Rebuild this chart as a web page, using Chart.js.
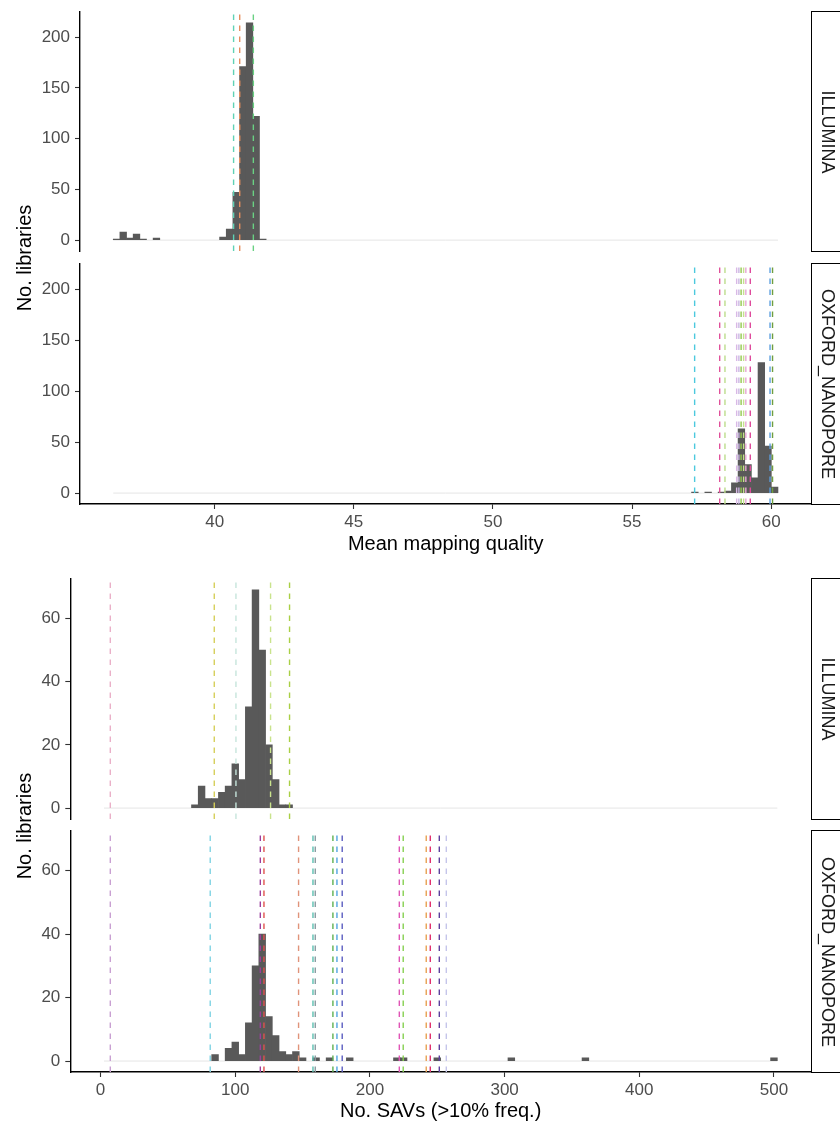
<!DOCTYPE html>
<html>
<head>
<meta charset="utf-8">
<script src="https://cdn.jsdelivr.net/npm/chart.js@4.4.1/dist/chart.umd.min.js"></script>
<style>
  html, body { margin: 0; padding: 0; background: #fff; }
  #page { position: relative; width: 840px; height: 1126px; overflow: hidden; font-family: "Liberation Sans", Arial, Helvetica, sans-serif; }
  #page canvas { position: absolute; left: 0; }
  .strip { position: absolute; left: 811px; width: 60px; box-sizing: border-box; border: 1.4px solid #000; background: #fff; }
  .rot { position: absolute; width: 300px; text-align: center; white-space: nowrap; }
</style>
</head>
<body>
<div id="page"></div>
<script>
// ---- mean mapping quality, 100 bins ----
var mqBinStart = 36.355;
var mqBinWidth = 0.2389;
var mqIllumina = [
  1, 8, 2, 6, 1, 0, 2, 0, 0, 0, 0, 0, 0, 0, 0, 0, 3, 11, 47, 171,
  214, 122, 1, 0, 0, 0, 0, 0, 0, 0, 0, 0, 0, 0, 0, 0, 0, 0, 0, 0,
  0, 0, 0, 0, 0, 0, 0, 0, 0, 0, 0, 0, 0, 0, 0, 0, 0, 0, 0, 0,
  0, 0, 0, 0, 0, 0, 0, 0, 0, 0, 0, 0, 0, 0, 0, 0, 0, 0, 0, 0,
  0, 0, 0, 0, 0, 0, 0, 0, 0, 0, 0, 0, 0, 0, 0, 0, 0, 0, 0, 0
];
var mqNanopore = [
  0, 0, 0, 0, 0, 0, 0, 0, 0, 0, 0, 0, 0, 0, 0, 0, 0, 0, 0, 0,
  0, 0, 0, 0, 0, 0, 0, 0, 0, 0, 0, 0, 0, 0, 0, 0, 0, 0, 0, 0,
  0, 0, 0, 0, 0, 0, 0, 0, 0, 0, 0, 0, 0, 0, 0, 0, 0, 0, 0, 0,
  0, 0, 0, 0, 0, 0, 0, 0, 0, 0, 0, 0, 0, 0, 0, 0, 0, 0, 0, 0,
  0, 0, 0, 0, 0, 0, 0, 1, 0, 1, 0, 1, 2, 10, 63, 28, 15, 128, 46, 6
];
var mqIlluminaLines = [40.68, 40.90, 41.39];
var mqIlluminaColors = ['#5fd2b4', '#e68f5e', '#6ad183'];
var mqNanoporeLines = [57.25, 58.15, 58.34, 58.76, 58.84, 58.92, 59.01, 59.09, 59.25, 59.96, 60.05];
var mqNanoporeColors = ['#4cc9de', '#e0509a', '#bcdc8c', '#d9b8e6', '#c9b7e2', '#93c94f', '#c5e08d', '#e6a5d6', '#de4a9c', '#5b9fe0', '#6f9e3f'];
var mqTicksX = [40, 45, 50, 55, 60];
var mqTicksY = [0, 50, 100, 150, 200];

// ---- number of SAVs, 100 bins ----
var savBinStart = 2.5;
var savBinWidth = 5;
var savIllumina = [
  0, 0, 0, 0, 0, 0, 0, 0, 0, 0, 0, 0, 0, 1, 7, 3, 3, 5, 7, 14,
  9, 32, 69, 50, 20, 9, 1, 1, 0, 0, 0, 0, 0, 0, 0, 0, 0, 0, 0, 0,
  0, 0, 0, 0, 0, 0, 0, 0, 0, 0, 0, 0, 0, 0, 0, 0, 0, 0, 0, 0,
  0, 0, 0, 0, 0, 0, 0, 0, 0, 0, 0, 0, 0, 0, 0, 0, 0, 0, 0, 0,
  0, 0, 0, 0, 0, 0, 0, 0, 0, 0, 0, 0, 0, 0, 0, 0, 0, 0, 0, 0
];
var savNanopore = [
  0, 0, 0, 0, 0, 0, 0, 0, 0, 0, 0, 0, 0, 0, 0, 0, 2, 0, 4, 6,
  2, 12, 30, 40, 14, 8, 3, 2, 3, 1, 0, 1, 0, 1, 0, 0, 1, 0, 0, 0,
  0, 0, 0, 1, 1, 0, 0, 0, 0, 1, 0, 0, 0, 0, 0, 0, 0, 0, 0, 0,
  1, 0, 0, 0, 0, 0, 0, 0, 0, 0, 0, 1, 0, 0, 0, 0, 0, 0, 0, 0,
  0, 0, 0, 0, 0, 0, 0, 0, 0, 0, 0, 0, 0, 0, 0, 0, 0, 0, 0, 1
];
var savIlluminaLines = [7.2, 84.4, 100.5, 126.2, 140.3];
var savIlluminaColors = ['#eab0c8', '#d6cf5a', '#c6e5dc', '#c9e38c', '#a9cf45'];
var savNanoporeLines = [7.2, 81.4, 118.6, 121.3, 147, 157.7, 159.4, 172.5, 175.5, 179.4, 221.8, 224.7, 241.8, 244.8, 251.5, 256.7];
var savNanoporeColors = ['#c9a0d2', '#7fd3e3', '#9b3d9e', '#e0524e', '#e0937a', '#5cc0b0', '#8a9aa0', '#5fb050', '#4fa3e0', '#5a5cc0', '#e055b5', '#85d050', '#e8a050', '#e0306e', '#5c3f9c', '#c5c5ea'];
var savTicksX = [0, 100, 200, 300, 400, 500];
var savTicksY = [0, 20, 40, 60];

var facets = ['ILLUMINA', 'OXFORD_NANOPORE'];
var yTitle = 'No. libraries';

Chart.defaults.font.family = '"Liberation Sans", Arial, Helvetica, sans-serif';

var page = document.getElementById('page');
var PAD = 20;

function addText(text, cx, cy, size, color, angle) {
  var d = document.createElement('div');
  d.className = 'rot';
  d.textContent = text;
  d.style.left = (cx - 150) + 'px';
  d.style.top = (cy - 12) + 'px';
  d.style.height = '24px';
  d.style.lineHeight = '24px';
  d.style.fontSize = size + 'px';
  d.style.color = color;
  d.style.transform = 'rotate(' + angle + 'deg)';
  page.appendChild(d);
}

function addStrip(label, top, bottom) {
  var s = document.createElement('div');
  s.className = 'strip';
  s.style.top = (top - 0.7) + 'px';
  s.style.height = (bottom - top + 1.4) + 'px';
  page.appendChild(s);
  addText(label, 828.3, (top + bottom) / 2, 18, '#1a1a1a', 90);
}

function panel(p) {
  var plotH = p.bottom - p.top;
  var h = PAD + plotH + (p.xTitle ? p.axisH : PAD);
  var canvas = document.createElement('canvas');
  canvas.width = 840;
  canvas.height = h;
  canvas.style.top = (p.top - PAD) + 'px';
  page.appendChild(canvas);

  var datasets = [];
  // dashed reference lines
  p.lines.forEach(function (v, i) {
    datasets.push({
      type: 'line',
      data: [{x: v, y: p.yMin}, {x: v, y: p.yMax}],
      borderColor: p.colors[i],
      borderWidth: 1.4,
      borderDash: [5.5, 5.5],
      pointRadius: 0,
      order: 1
    });
  });
  datasets.push({
    type: 'bar',
    data: p.counts.map(function (c, i) {
      return {x: p.binStart + (i + 0.5) * p.binWidth, y: c || null};
    }),
    backgroundColor: '#595959',
    borderWidth: 0,
    barPercentage: 1,
    categoryPercentage: 1,
    order: 2
  });
  // baseline under the histogram
  datasets.push({
    type: 'line',
    data: [{x: p.binStart, y: 0}, {x: p.binStart + p.counts.length * p.binWidth, y: 0}],
    borderColor: '#e5e5e5',
    borderWidth: 1,
    pointRadius: 0,
    order: 3
  });

  new Chart(canvas, {
    type: 'bar',
    data: {datasets: datasets},
    options: {
      responsive: false,
      animation: false,
      devicePixelRatio: 1,
      layout: {padding: {top: PAD, bottom: p.xTitle ? 0 : PAD, left: 0, right: 840 - p.right}},
      plugins: {legend: {display: false}, tooltip: {enabled: false}},
      scales: {
        x: {
          type: 'linear',
          min: p.xMin,
          max: p.xMax,
          offset: false,
          display: !!p.xTitle,
          afterBuildTicks: function (s) { s.ticks = p.xTicks.map(function (v) { return {value: v}; }); },
          afterFit: function (s) { s.height = p.xTitle ? p.axisH : 0; },
          grid: {offset: false, drawOnChartArea: false, drawTicks: true, tickLength: 5, tickColor: '#333', tickWidth: 1.1},
          border: {display: true, color: '#000', width: 1.4},
          ticks: {color: '#4d4d4d', font: {size: 17}, padding: 3, maxRotation: 0, autoSkip: false},
          title: {display: !!p.xTitle, text: p.xTitle, color: '#000', font: {size: 20}, padding: {top: 0, bottom: 0}}
        },
        y: {
          min: p.yMin,
          max: p.yMax,
          afterBuildTicks: function (s) { s.ticks = p.yTicks.map(function (v) { return {value: v}; }); },
          afterFit: function (s) { s.width = p.left; },
          grid: {drawOnChartArea: false, drawTicks: true, tickLength: 5, tickColor: '#333', tickWidth: 1.1},
          border: {display: true, color: '#000', width: 1.4},
          ticks: {color: '#4d4d4d', font: {size: 17}, padding: 5, autoSkip: false}
        }
      }
    }
  });
}

// top figure: mean mapping quality
var mqX = {xMin: 35.16, xMax: 61.45, xTicks: mqTicksX, yTicks: mqTicksY, yMin: -10.7, yMax: 224.7,
           left: 80, right: 811.5, binStart: mqBinStart, binWidth: mqBinWidth, axisH: 52};
panel(Object.assign({}, mqX, {top: 12, bottom: 251, counts: mqIllumina, lines: mqIlluminaLines, colors: mqIlluminaColors}));
panel(Object.assign({}, mqX, {top: 264, bottom: 504, counts: mqNanopore, lines: mqNanoporeLines, colors: mqNanoporeColors,
                              xTitle: 'Mean mapping quality'}));
addStrip(facets[0], 12, 251);
addStrip(facets[1], 264, 504);
addText(yTitle, 23.8, 258, 20, '#000', -90);

// bottom figure: number of SAVs
var savX = {xMin: -22.5, xMax: 527.5, xTicks: savTicksX, yTicks: savTicksY, yMin: -3.45, yMax: 72.45,
            left: 70.3, right: 811, binStart: savBinStart, binWidth: savBinWidth, axisH: 51};
panel(Object.assign({}, savX, {top: 579, bottom: 819, counts: savIllumina, lines: savIlluminaLines, colors: savIlluminaColors}));
panel(Object.assign({}, savX, {top: 831, bottom: 1072, counts: savNanopore, lines: savNanoporeLines, colors: savNanoporeColors,
                               xTitle: 'No. SAVs (>10% freq.)'}));
addStrip(facets[0], 579, 819);
addStrip(facets[1], 831, 1072);
addText(yTitle, 23.8, 825.5, 20, '#000', -90);
</script>
</body>
</html>
